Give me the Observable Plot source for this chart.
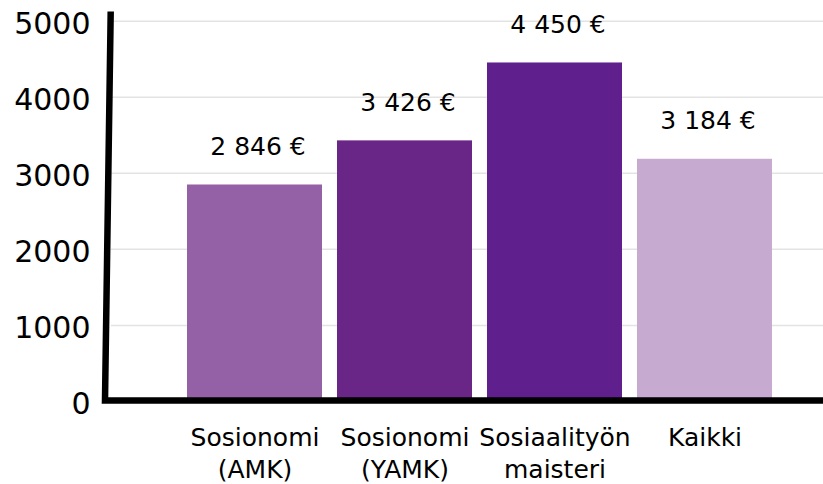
<!DOCTYPE html>
<html><head><meta charset="utf-8">
<script src="https://cdn.jsdelivr.net/npm/d3@7"></script>
<script src="https://cdn.jsdelivr.net/npm/@observablehq/plot@0.6"></script>
<style>body{margin:0;background:#fff;} svg{display:block}</style>
</head><body><div id="chart"></div>
<script>
const categories = ["Sosionomi\n(AMK)", "Sosionomi\n(YAMK)", "Sosiaalityön\nmaisteri", "Kaikki"];
const values = [2846, 3426, 4450, 3184];
const colors = ["#9460a6", "#6a2686", "#5f1f8d", "#c6aad0"];
const yTicks = [0, 1000, 2000, 3000, 4000, 5000];

const data = categories.map((c, i) => ({category: c, value: values[i]}));
const fmt = v => d3.format(",")(v).replace(/,/g, "\u00a0") + "\u00a0€";

const axisLines = (index, scales, vals, dimensions) => {
  const {width, marginLeft} = dimensions;
  const yTop = scales.y(5120);
  const y0 = scales.y(0) - 0.5;
  return d3.create("svg:path")
    .attr("d", `M${marginLeft - 0.3},${yTop} L${marginLeft - 6},${y0} L${width},${y0}`)
    .attr("fill", "none")
    .attr("stroke", "black")
    .attr("stroke-width", 6.5)
    .attr("stroke-linejoin", "miter")
    .node();
};

const chart = Plot.plot({
  width: 823,
  height: 484,
  marginLeft: 111,
  marginRight: 0,
  marginTop: 11.5,
  marginBottom: 83,
  style: {fontFamily: "DejaVu Sans", background: "white", color: "black"},
  x: {domain: categories, paddingInner: 0.1, paddingOuter: 0.4125, align: 0.6, label: null},
  y: {domain: [0, 5120], label: null},
  color: {domain: categories, range: colors},
  marks: [
    Plot.gridY(yTicks.slice(1), {stroke: "#e3e3e3", strokeOpacity: 1, strokeWidth: 1.5}),
    Plot.barY(data, {x: "category", y: "value", fill: "category"}),
    Plot.text(data, {x: "category", y: "value", text: d => fmt(d.value), fontSize: 25, lineAnchor: "bottom", dy: -30, dx: 3, fill: "black", fontFamily: "DejaVu Sans"}),
    Plot.axisY(yTicks, {tickSize: 0, tickPadding: 21, fontSize: 30, dy: 3, label: null, fill: "black", tickFormat: d => String(d)}),
    Plot.axisX({tickSize: 0, tickPadding: 22, fontSize: 25, lineHeight: 1.28, label: null, fill: "black"}),
    axisLines
  ]
});
document.getElementById("chart").appendChild(chart);
</script>
</body></html>
